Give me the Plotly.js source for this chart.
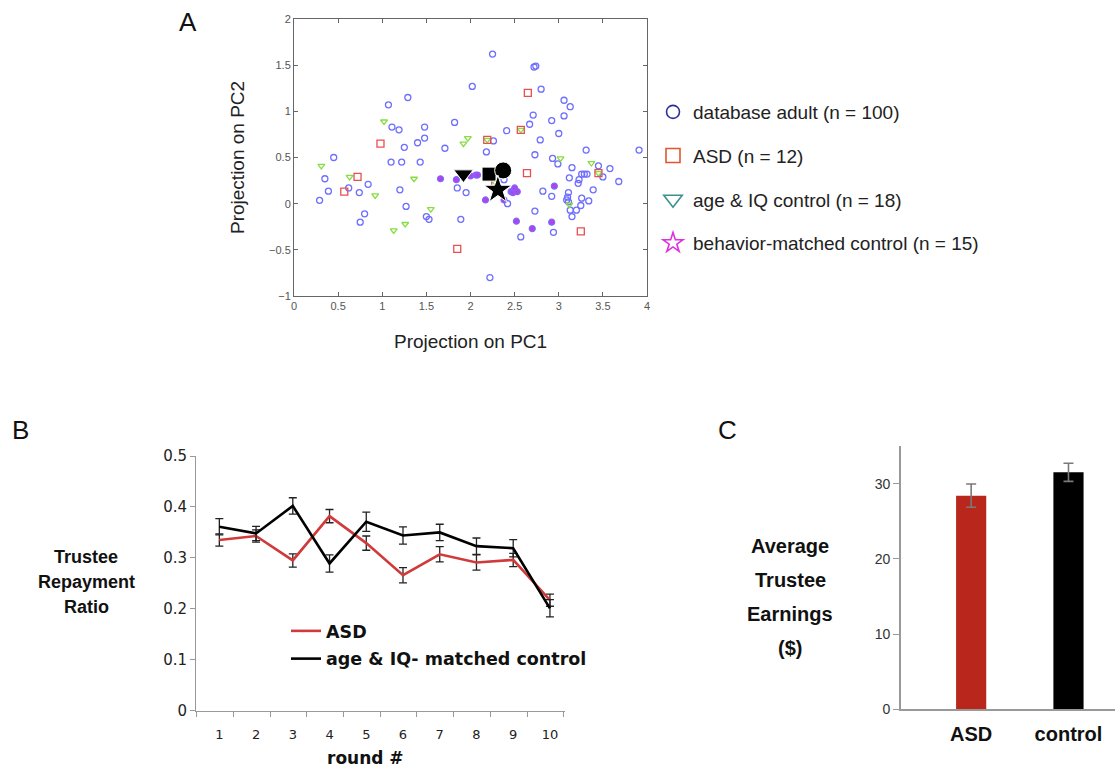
<!DOCTYPE html>
<html>
<head>
<meta charset="utf-8">
<script src="https://cdn.plot.ly/plotly-3.0.1.min.js"></script>
<style>html,body{margin:0;padding:0;background:#fff;}#chart{width:1115px;height:772px;}</style>
</head>
<body>
<div id="chart"></div>
<script>
// ---------- Panel A data ----------
const dbX = [0.45,1.07,1.29,1.11,1.19,1.25,1.40,1.48,1.48,1.71,1.82,2.02,2.25,2.18,2.26,2.41,2.72,2.74,2.80,2.71,2.67,2.79,2.73,2.92,2.93,3.00,3.06,3.13,3.06,3.31,3.91,
  0.35,0.39,0.29,0.62,0.74,0.84,0.80,0.75,1.10,1.22,1.43,1.20,1.27,1.50,1.53,1.85,1.95,1.89,2.38,2.42,2.22,2.57,2.82,2.73,2.99,2.92,2.94,3.15,3.12,3.26,3.29,3.32,3.23,3.22,3.39,3.11,3.10,3.09,3.11,3.13,3.20,3.15,3.26,3.25,3.34,3.45,3.50,3.58,3.68];
const dbY = [0.50,1.07,1.15,0.83,0.80,0.61,0.66,0.71,0.83,0.60,0.88,1.27,1.62,0.56,0.68,0.79,1.48,1.49,1.24,0.96,0.86,0.69,0.53,0.90,0.49,0.76,1.12,1.05,0.95,0.58,0.58,
  0.27,0.135,0.036,0.17,0.12,0.21,-0.11,-0.20,0.45,0.45,0.45,0.15,-0.03,-0.14,-0.17,0.17,0.12,-0.17,0.26,0.00,-0.80,-0.36,0.135,-0.08,0.43,0.08,-0.31,0.39,0.28,0.32,0.32,0.32,0.26,0.22,0.15,0.12,0.07,0.04,0.02,-0.07,-0.07,-0.14,0.06,-0.02,0.03,0.41,0.29,0.38,0.24];
const asdX = [0.57,0.72,0.98,1.85,2.19,2.57,2.65,2.64,3.25,3.45,2.28];
const asdY = [0.13,0.29,0.65,-0.49,0.69,0.80,1.20,0.33,-0.30,0.33,0.23];
const ctrlX = [0.31,0.63,0.92,1.36,1.13,1.26,1.55,1.02,1.92,1.97,2.19,2.57,2.28,3.02,3.37,3.45,3.12];
const ctrlY = [0.41,0.29,0.09,0.27,-0.29,-0.22,-0.06,0.89,0.65,0.71,0.69,0.80,0.23,0.49,0.44,0.33,-0.01];
const bmX = [1.66,1.84,2.06,2.08,2.17,2.38,2.46,2.48,2.50,2.53,2.52,2.95,2.92,2.70,2.00];
const bmY = [0.27,0.26,0.31,0.31,0.04,0.04,0.13,0.12,0.17,0.13,-0.19,0.19,-0.20,-0.27,0.30];
const meanLabels = ['age & IQ control','ASD','database adult','behavior-matched control'];
const meanX = [1.92,2.21,2.37,2.31];
const meanY = [0.32,0.32,0.36,0.15];
const legendANames = ['database adult (n = 100)','ASD (n = 12)','age & IQ control (n = 18)','behavior-matched control (n = 15)'];

// ---------- Panel B data ----------
const rounds = [1,2,3,4,5,6,7,8,9,10];
const asdRepay = [0.335,0.343,0.295,0.382,0.329,0.266,0.307,0.291,0.296,0.217];
const asdErr   = [0.012,0.012,0.013,0.013,0.014,0.015,0.015,0.015,0.013,0.012];
const ctrlRepay = [0.361,0.348,0.402,0.289,0.371,0.344,0.350,0.323,0.319,0.201];
const ctrlErr   = [0.016,0.014,0.016,0.017,0.019,0.017,0.016,0.016,0.017,0.017];
const legendBNames = ['ASD','age & IQ- matched control'];
const titleBLines = ['Trustee','Repayment','Ratio'];

// ---------- Panel C data ----------
const groups = ['ASD','control'];
const earnings = [28.4,31.5];
const earningsErr = [1.55,1.2];
const titleCLines = ['Average','Trustee','Earnings','($)'];

const W = 1115, H = 772;
const px = v => v / W;
const py = v => 1 - v / H;

const traces = [];
// Panel A data traces
traces.push({x: dbX, y: dbY, type:'scatter', mode:'markers', xaxis:'x', yaxis:'y', showlegend:false, hoverinfo:'skip',
  marker:{symbol:'circle-open', size:6, color:'#6e6eff', opacity:1, line:{width:1.3}}});
traces.push({x: bmX, y: bmY, type:'scatter', mode:'markers', xaxis:'x', yaxis:'y', showlegend:false, hoverinfo:'skip',
  marker:{symbol:'circle', size:6, color:'#b044e8', opacity:1, line:{width:1.2, color:'#7a6aff'}}});
traces.push({x: ctrlX, y: ctrlY, type:'scatter', mode:'markers', xaxis:'x', yaxis:'y', showlegend:false, hoverinfo:'skip',
  marker:{symbol:'triangle-down-open', size:6, color:'#88dd44', opacity:1, line:{width:1.3}}});
traces.push({x: asdX, y: asdY, type:'scatter', mode:'markers', xaxis:'x', yaxis:'y', showlegend:false, hoverinfo:'skip',
  marker:{symbol:'square-open', size:7, color:'#e85050', opacity:1, line:{width:1.3}}});
traces.push({x: meanX, y: meanY, text: meanLabels, type:'scatter', mode:'markers', xaxis:'x', yaxis:'y', showlegend:false, hoverinfo:'skip',
  marker:{symbol:['triangle-down','square','circle','star'], size:[17,14,17,21], color:'#000', opacity:1}});
// Panel A legend (dummy traces)
const legSym = ['circle-open','square-open','triangle-down-open','star-open'];
const legCol = ['#2d2d9e','#e2552e','#3f8f8f','#e030e0'];
const legSize = [13,14,16,15];
for (let i = 0; i < 4; i++) {
  traces.push({x:[null], y:[null], type:'scatter', mode:'markers', xaxis:'x', yaxis:'y', name: legendANames[i],
    legend:'legend', legendgroup:'a'+i, showlegend:true,
    marker:{symbol:legSym[i], size:legSize[i], color:legCol[i], opacity:1, line:{width:1.6}}});
}
// Panel B
traces.push({x: rounds, y: asdRepay, type:'scatter', mode:'lines', xaxis:'x2', yaxis:'y2', name: legendBNames[0],
  legend:'legend2', legendgroup:'b0', hoverinfo:'skip',
  line:{color:'#d03a3a', width:2.6},
  error_y:{type:'data', array: asdErr, visible:true, color:'#222', thickness:1.3, width:4}});
traces.push({x: rounds, y: ctrlRepay, type:'scatter', mode:'lines', xaxis:'x2', yaxis:'y2', name: legendBNames[1],
  legend:'legend2', legendgroup:'b1', hoverinfo:'skip',
  line:{color:'#000', width:2.6},
  error_y:{type:'data', array: ctrlErr, visible:true, color:'#222', thickness:1.3, width:4}});
// Panel C
traces.push({x: groups, y: earnings, type:'bar', xaxis:'x3', yaxis:'y3', showlegend:false, hoverinfo:'skip',
  width:0.31, marker:{color:['#b8261c','#000'], line:{width:0}},
  error_y:{type:'data', array: earningsErr, visible:true, color:'#7a7a7a', thickness:1.6, width:5}});

const fA = {family:'Liberation Sans, Arial, sans-serif', size:11, color:'#555'};
const ann = (text, x, y, font, extra) => Object.assign({text, x:px(x), y:py(y), xref:'paper', yref:'paper',
  xanchor:'center', yanchor:'middle', showarrow:false, font}, extra || {});
const fLetter = {family:'Liberation Sans, Arial', size:26, color:'#111'};
const fAxA = {family:'Liberation Sans, Arial', size:19, color:'#222'};
const fBold = {family:'Liberation Sans, Arial', size:18, color:'#111', weight:'bold'};
const fBoldV = {family:'DejaVu Sans, Verdana', size:17, color:'#111', weight:'bold'};
const fBoldC = {family:'Liberation Sans, Arial', size:20, color:'#111', weight:'bold'};

const annotations = [
  ann('A', 188, 22, fLetter), ann('B', 20, 430, fLetter), ann('C', 727, 430, fLetter),
  ann('Projection on PC1', 470, 341, fAxA),
  ann('Projection on PC2', 237, 157, fAxA, {textangle:-90}),
  ann('<b>round #</b>', 365, 758, fBoldV)
];
titleBLines.forEach((t, i) => annotations.push(ann('<b>' + t + '</b>', 86, 557 + i * 25, fBold)));
titleCLines.forEach((t, i) => annotations.push(ann('<b>' + t + '</b>', 790, 546 + i * 34, fBoldC)));

const layout = {
  width: W, height: H,
  margin:{l:0,r:0,t:0,b:0},
  paper_bgcolor:'#fff', plot_bgcolor:'rgba(0,0,0,0)',
  showlegend:true,
  xaxis:{domain:[px(294),px(647)], anchor:'y', range:[0,4], dtick:0.5, tick0:0,
    showline:true, mirror:'allticks', linecolor:'#666', linewidth:1, ticks:'inside', ticklen:4, tickcolor:'#666',
    showgrid:false, zeroline:false, tickfont:fA},
  yaxis:{domain:[py(296),py(19)], anchor:'x', range:[-1,2], dtick:0.5, tick0:0,
    showline:true, mirror:'allticks', linecolor:'#666', linewidth:1, ticks:'inside', ticklen:4, tickcolor:'#666',
    showgrid:false, zeroline:false, tickfont:fA},
  xaxis2:{domain:[px(196),px(565)], anchor:'y2', range:[0.365,10.41], tickvals: rounds, ticktext: rounds.map(String),
    ticks:'', showline:true, linecolor:'#999', linewidth:1, showgrid:false, zeroline:false, ticklabelstandoff:12,
    minor:{ticks:'outside', ticklen:5, tick0:1.38, dtick:1, tickcolor:'#999', showgrid:false},
    tickfont:{family:'DejaVu Sans, Verdana, sans-serif', size:13, color:'#222'}},
  yaxis2:{domain:[py(710.7),py(456)], anchor:'x2', range:[0,0.5], dtick:0.1, tick0:0,
    ticks:'outside', ticklen:5, tickcolor:'#999', showline:true, linecolor:'#999', linewidth:1, showgrid:false, zeroline:false,
    tickfont:{family:'DejaVu Sans, Verdana, sans-serif', size:15, color:'#222'}},
  xaxis3:{domain:[px(900.7),1], anchor:'y3', range:[-0.724,1.478], ticks:'', showline:true, linecolor:'#999', linewidth:1.5,
    showgrid:false, zeroline:false, ticklabelstandoff:6,
    tickfont:{family:'Liberation Sans, Arial, sans-serif', size:20, color:'#111', weight:'bold'}},
  yaxis3:{domain:[py(709.3),py(446)], anchor:'x3', range:[0,35], tickvals:[0,10,20,30],
    ticks:'outside', ticklen:6, tickcolor:'#999', showline:true, linecolor:'#999', linewidth:1.5, showgrid:false, zeroline:false,
    tickfont:{family:'Liberation Sans, Arial, sans-serif', size:14, color:'#333'}},
  legend:{x:px(653), y:py(93), xanchor:'left', yanchor:'top', bgcolor:'rgba(0,0,0,0)', tracegroupgap:16,
    itemwidth:30, font:{family:'Liberation Sans, Arial, sans-serif', size:19, color:'#222'}},
  legend2:{x:px(286), y:py(613), xanchor:'left', yanchor:'top', bgcolor:'rgba(0,0,0,0)', tracegroupgap:2,
    itemwidth:30, font:{family:'DejaVu Sans, Verdana, sans-serif', size:17.5, color:'#111', weight:'bold'}},
  annotations
};
Plotly.newPlot('chart', traces, layout, {staticPlot:true, displayModeBar:false});
</script>
</body>
</html>
